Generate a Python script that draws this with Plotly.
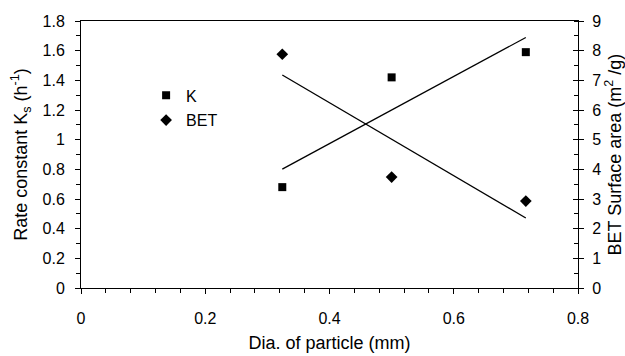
import numpy as np
import plotly.graph_objects as go

# Particle diameter (mm) and measured values
diameter = [0.324, 0.5, 0.716]
rate_k = [0.68, 1.42, 1.59]          # rate constant Ks (1/h)
bet_area = [7.88, 3.74, 2.93]        # BET surface area (m2/g)

x_ticks = [0, 0.2, 0.4, 0.6, 0.8]
y_left_ticks = [0, 0.2, 0.4, 0.6, 0.8, 1, 1.2, 1.4, 1.6, 1.8]
y_right_ticks = list(range(0, 10))

FONT = "Liberation Sans, Arial, sans-serif"

# Least-squares trend lines through each series
xs = np.array(diameter)
k_fit = np.polyfit(xs, rate_k, 1)
b_fit = np.polyfit(xs, bet_area, 1)
x_line = [xs.min(), xs.max()]

fig = go.Figure()

fig.add_trace(go.Scatter(
    x=x_line, y=np.polyval(k_fit, x_line), mode="lines",
    line=dict(color="black", width=1.3), showlegend=False, hoverinfo="skip"))
fig.add_trace(go.Scatter(
    x=x_line, y=np.polyval(b_fit, x_line), mode="lines", yaxis="y2",
    line=dict(color="black", width=1.3), showlegend=False, hoverinfo="skip"))

fig.add_trace(go.Scatter(
    x=diameter, y=rate_k, mode="markers", name="K", legendgroup="k",
    marker=dict(symbol="square", size=8, color="black")))
fig.add_trace(go.Scatter(
    x=diameter, y=bet_area, mode="markers", name="BET", yaxis="y2", legendgroup="b",
    marker=dict(symbol="diamond", size=9, color="black")))

fig.update_layout(
    width=625, height=356,
    margin=dict(l=81, r=47, t=21, b=68),
    paper_bgcolor="white", plot_bgcolor="white",
    font=dict(family=FONT, size=16, color="black"),
    showlegend=True,
    legend=dict(x=0.131, y=0.785, xanchor="left", yanchor="top",
                bgcolor="rgba(0,0,0,0)", font=dict(size=16),
                traceorder="grouped", tracegroupgap=1,
                itemwidth=30),
    xaxis=dict(
        range=[0, 0.8], tickvals=x_ticks, ticktext=[f"{v:g}" for v in x_ticks],
        showgrid=False, zeroline=False, automargin=False,
        showline=True, linecolor="black", linewidth=1, mirror=True,
        ticks="outside", ticklen=5, tickcolor="black", tickwidth=1,
        ticklabelstandoff=11, tickfont=dict(size=16),
        minor=dict(dtick=0.04, ticks="outside", ticklen=4, tickcolor="black", showgrid=False),
        title=dict(text="Dia. of particle (mm)", standoff=10, font=dict(size=18)),
    ),
    yaxis=dict(
        range=[0, 1.8], tickvals=y_left_ticks, ticktext=[f"{v:g}" for v in y_left_ticks],
        showgrid=False, zeroline=False, automargin=False,
        showline=True, linecolor="black", linewidth=1,
        ticks="outside", ticklen=5, tickcolor="black",
        ticklabelstandoff=7, tickfont=dict(size=16),
        minor=dict(dtick=0.1, ticks="outside", ticklen=4, tickcolor="black", showgrid=False),
        title=dict(text="Rate constant K<sub>s</sub> (h<sup>-1</sup>)", standoff=10,
                   font=dict(size=18)),
    ),
    yaxis2=dict(
        range=[0, 9], tickvals=y_right_ticks, overlaying="y", side="right",
        showgrid=False, zeroline=False, automargin=False,
        showline=True, linecolor="black", linewidth=1,
        ticks="outside", ticklen=5, tickcolor="black",
        ticklabelstandoff=5, tickfont=dict(size=16),
        minor=dict(dtick=0.5, ticks="inside", ticklen=4, tickcolor="black", showgrid=False),
        title=dict(text="BET Surface area (m<sup>2</sup> /g)", standoff=8,
                   font=dict(size=18)),
    ),
    yaxis3=dict(
        range=[0, 9], tickvals=y_right_ticks, overlaying="y", side="right",
        showgrid=False, zeroline=False, showline=False, showticklabels=False,
        automargin=False, ticks="inside", ticklen=5, tickcolor="black",
    ),
)

# invisible trace to anchor the crossing ticks of the right axis
fig.add_trace(go.Scatter(x=[None], y=[None], yaxis="y3", showlegend=False, hoverinfo="skip"))

fig.write_html("out.html")
